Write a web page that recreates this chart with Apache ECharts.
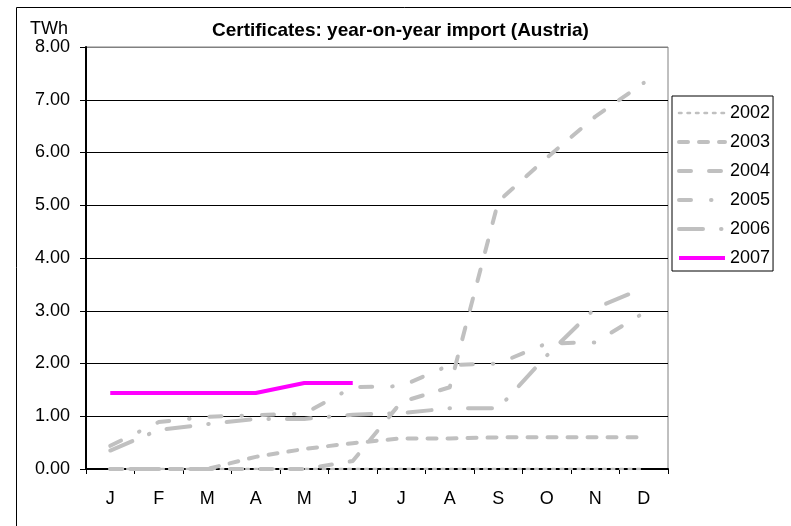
<!DOCTYPE html>
<html>
<head>
<meta charset="utf-8">
<script src="https://cdn.jsdelivr.net/npm/echarts@6/dist/echarts.min.js"></script>
<style>
html,body{margin:0;padding:0;background:#fff;}
#chart{width:791px;height:526px;}
</style>
</head>
<body>
<div id="chart"></div>
<script>
// ---- data ----
const months = ['J','F','M','A','M','J','J','A','S','O','N','D'];
const seriesNames = ['2002','2003','2004','2005','2006','2007'];
const v2002 = [0,0,0,0,0,0,0,0,0,0,0,0];
const v2003 = [0,0,0,0.23,0.38,0.49,0.58,0.58,0.60,0.60,0.60,0.60];
const v2004 = [0,0,0,0,0,0.15,1.27,1.55,5.07,5.90,6.68,7.32];
const v2005 = [0.44,0.89,0.99,1.02,1.05,1.55,1.57,1.97,2.00,2.38,2.40,2.96];
const v2006 = [0.35,0.74,0.85,0.95,0.95,1.03,1.06,1.15,1.15,2.15,3.05,3.43];
const v2007 = [1.44,1.44,1.44,1.44,1.63,1.63];
const yMin = 0, yMax = 8, yStep = 1;

const FONT = 'Liberation Sans, Arial, sans-serif';
const GREY = '#c0c0c0';

function mk(name, data, color, width, dash) {
  return {
    name: name, type: 'line', data: data,
    symbol: 'none', showSymbol: false, animation: false,
    lineStyle: { color: color, width: width, type: dash, cap: dash === 'solid' ? 'butt' : 'round', join: 'round' },
    itemStyle: { color: color },
    emphasis: { disabled: true }
  };
}

const chart = echarts.init(document.getElementById('chart'));
chart.setOption({
  backgroundColor: '#fff',
  animation: false,
  title: {
    text: 'Certificates: year-on-year import (Austria)',
    left: 212, top: 21, padding: 0,
    textStyle: { fontFamily: FONT, fontSize: 19, fontWeight: 'bold', color: '#000' }
  },
  graphic: [
    { type: 'rect', shape: { x: 16.5, y: 7.5, width: 900, height: 700 }, style: { fill: 'none', stroke: '#000', lineWidth: 1 }, silent: true, z: -1 },
    { type: 'text', left: 30, top: 20, style: { text: 'TWh', fontFamily: FONT, fontSize: 18, fill: '#000' } }
  ],
  legend: {
    orient: 'vertical', left: 672, top: 96,
    padding: [8, 3, 4, 5],
    itemWidth: 46, itemHeight: 18, itemGap: 11,
    borderColor: '#000', borderWidth: 1,
    textStyle: { fontFamily: FONT, fontSize: 18, color: '#000' },
    itemStyle: { opacity: 0, borderWidth: 0 },
    lineStyle: { width: 4 },
    data: [
      { name: '2002', lineStyle: { width: 2.5 } },
      '2003', '2004', '2005', '2006', '2007'
    ],
    selectedMode: false
  },
  grid: {
    left: 86, right: 123, top: 47, bottom: 57,
    show: true, borderColor: '#808080', borderWidth: 1, backgroundColor: 'transparent'
  },
  xAxis: {
    type: 'category', data: months, boundaryGap: true,
    axisLine: { lineStyle: { color: '#000', width: 2 } },
    axisTick: { show: true, length: 5, lineStyle: { color: '#000', width: 1 } },
    axisLabel: { margin: 21, fontFamily: FONT, fontSize: 18, color: '#000', interval: 0 },
    splitLine: { show: false }
  },
  yAxis: {
    type: 'value', min: yMin, max: yMax, interval: yStep,
    axisLine: { show: true, lineStyle: { color: '#000', width: 2 } },
    axisTick: { show: true, length: 6, lineStyle: { color: '#000', width: 1 } },
    axisLabel: { margin: 16, fontFamily: FONT, fontSize: 18, color: '#000', formatter: v => v.toFixed(2) },
    splitLine: { show: true, lineStyle: { color: ['#000','#000','#000','#000','#000','#000','#000','#000','#808080'], width: 1 } }
  },
  series: [
    mk('2002', v2002, GREY, 2.5, [2.5, 6]),
    mk('2003', v2003, GREY, 4, [9, 11]),
    mk('2004', v2004, GREY, 4, [12, 18]),
    mk('2005', v2005, GREY, 4, [12, 20, 0.5, 20]),
    mk('2006', v2006, GREY, 4, [24, 18, 0.5, 18]),
    mk('2007', v2007, '#ff00ff', 4, 'solid')
  ]
});
</script>
</body>
</html>
